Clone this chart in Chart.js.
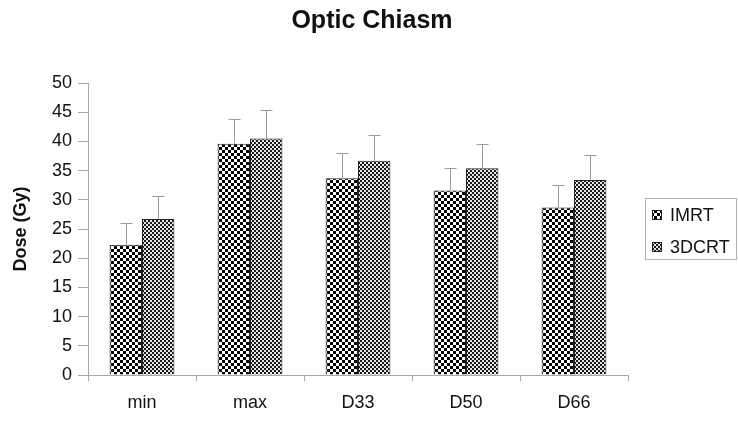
<!DOCTYPE html>
<html>
<head>
<meta charset="utf-8">
<script src="https://cdn.jsdelivr.net/npm/chart.js@4"></script>
<style>
  html, body { margin: 0; padding: 0; background: #fff; }
  #wrap { width: 738px; height: 423px; position: relative; }
</style>
</head>
<body>
<div id="wrap"><canvas id="c" width="738" height="423"></canvas></div>
<script>
const chartTitle = 'Optic Chiasm';
const yAxisTitle = 'Dose (Gy)';
const categories = ['min', 'max', 'D33', 'D50', 'D66'];
const seriesNames = ['IMRT', '3DCRT'];
const imrtMean = [22.3, 39.6, 33.7, 31.6, 28.7];
const imrtSD   = [3.7, 4.2, 4.3, 3.8, 3.8];
const dcrtMean = [26.7, 40.5, 36.7, 35.4, 33.4];
const dcrtSD   = [4.0, 4.9, 4.4, 4.2, 4.2];
const yMin = 0, yMax = 50, yStep = 5;

const FONT = '"Liberation Sans", Arial, sans-serif';

function makePattern(cell, dark, light) {
  const c = document.createElement('canvas');
  c.width = cell * 2; c.height = cell * 2;
  const g = c.getContext('2d');
  g.fillStyle = light; g.fillRect(0, 0, cell * 2, cell * 2);
  g.fillStyle = dark;
  g.fillRect(0, 0, cell, cell);
  g.fillRect(cell, cell, cell, cell);
  return g.createPattern(c, 'repeat');
}
const ctx = document.getElementById('c').getContext('2d');
const patIMRT = makePattern(3, '#000', '#fff');
const patDCRT = makePattern(2, '#1a1a1a', '#e6e6e6');

const errorBars = {
  id: 'errorBars',
  afterDatasetsDraw(chart) {
    const c = chart.ctx, ys = chart.scales.y;
    const sds = [imrtSD, dcrtSD];
    const means = [imrtMean, dcrtMean];
    c.save();
    c.strokeStyle = '#9a9a9a';
    c.lineWidth = 1;
    chart.data.datasets.forEach((ds, i) => {
      chart.getDatasetMeta(i).data.forEach((bar, j) => {
        const x = Math.round(bar.x) + 0.5;
        const yb = ys.getPixelForValue(means[i][j]);
        const yt = Math.round(ys.getPixelForValue(means[i][j] + sds[i][j])) + 0.5;
        c.beginPath();
        c.moveTo(x, yb); c.lineTo(x, yt);
        c.moveTo(x - 6, yt); c.lineTo(x + 6, yt);
        c.stroke();
      });
    });
    c.restore();
  }
};

const titleAndLegend = {
  id: 'titleAndLegend',
  afterDraw(chart) {
    const c = chart.ctx;
    c.save();
    c.fillStyle = '#111';
    c.font = 'bold 25px ' + FONT;
    c.textAlign = 'center'; c.textBaseline = 'alphabetic';
    c.fillText(chartTitle, 372, 28);
    // legend box
    c.strokeStyle = '#b0b0b0'; c.lineWidth = 1;
    c.strokeRect(645.5, 198.5, 91, 61);
    const rows = [215, 247];
    c.font = '18px ' + FONT;
    c.textAlign = 'left'; c.textBaseline = 'middle';
    chart.data.datasets.forEach((ds, i) => {
      const cy = rows[i];
      c.fillStyle = ds.backgroundColor;
      c.fillRect(652, cy - 5, 10, 10);
      c.strokeStyle = '#222';
      c.strokeRect(652.5, cy - 4.5, 9, 9);
      c.fillStyle = '#111';
      c.fillText(ds.label, 670, cy + 1);
    });
    c.restore();
  }
};

new Chart(ctx, {
  type: 'bar',
  data: {
    labels: categories,
    datasets: [
      { label: seriesNames[0], data: imrtMean, backgroundColor: patIMRT, borderColor: '#222', borderWidth: 1 },
      { label: seriesNames[1], data: dcrtMean, backgroundColor: patDCRT, borderColor: '#222', borderWidth: 1 }
    ]
  },
  options: {
    responsive: false,
    animation: false,
    layout: { padding: { top: 83, right: 110, bottom: 0, left: 0 } },
    datasets: { bar: { categoryPercentage: 0.6, barPercentage: 1.0 } },
    plugins: { legend: { display: false }, title: { display: false }, tooltip: { enabled: false } },
    scales: {
      x: {
        afterFit(s) { s.height = 48; },
        grid: { display: true, offset: true, drawOnChartArea: false, color: '#a8a8a8', tickLength: 6, tickColor: '#a8a8a8' },
        border: { display: true, color: '#a8a8a8' },
        ticks: { color: '#111', font: { family: FONT, size: 18 }, padding: 11 }
      },
      y: {
        min: yMin, max: yMax,
        afterFit(s) { s.width = 88; },
        grid: { display: true, drawOnChartArea: false, color: '#a8a8a8', tickLength: 10, tickColor: '#a8a8a8' },
        border: { display: true, color: '#a8a8a8' },
        ticks: { stepSize: yStep, color: '#111', font: { family: FONT, size: 18 }, padding: 6 },
        title: { display: true, text: yAxisTitle, color: '#111', font: { family: FONT, size: 18, weight: 'bold' }, padding: { top: 10, bottom: 0 } }
      }
    }
  },
  plugins: [errorBars, titleAndLegend]
});
</script>
</body>
</html>
